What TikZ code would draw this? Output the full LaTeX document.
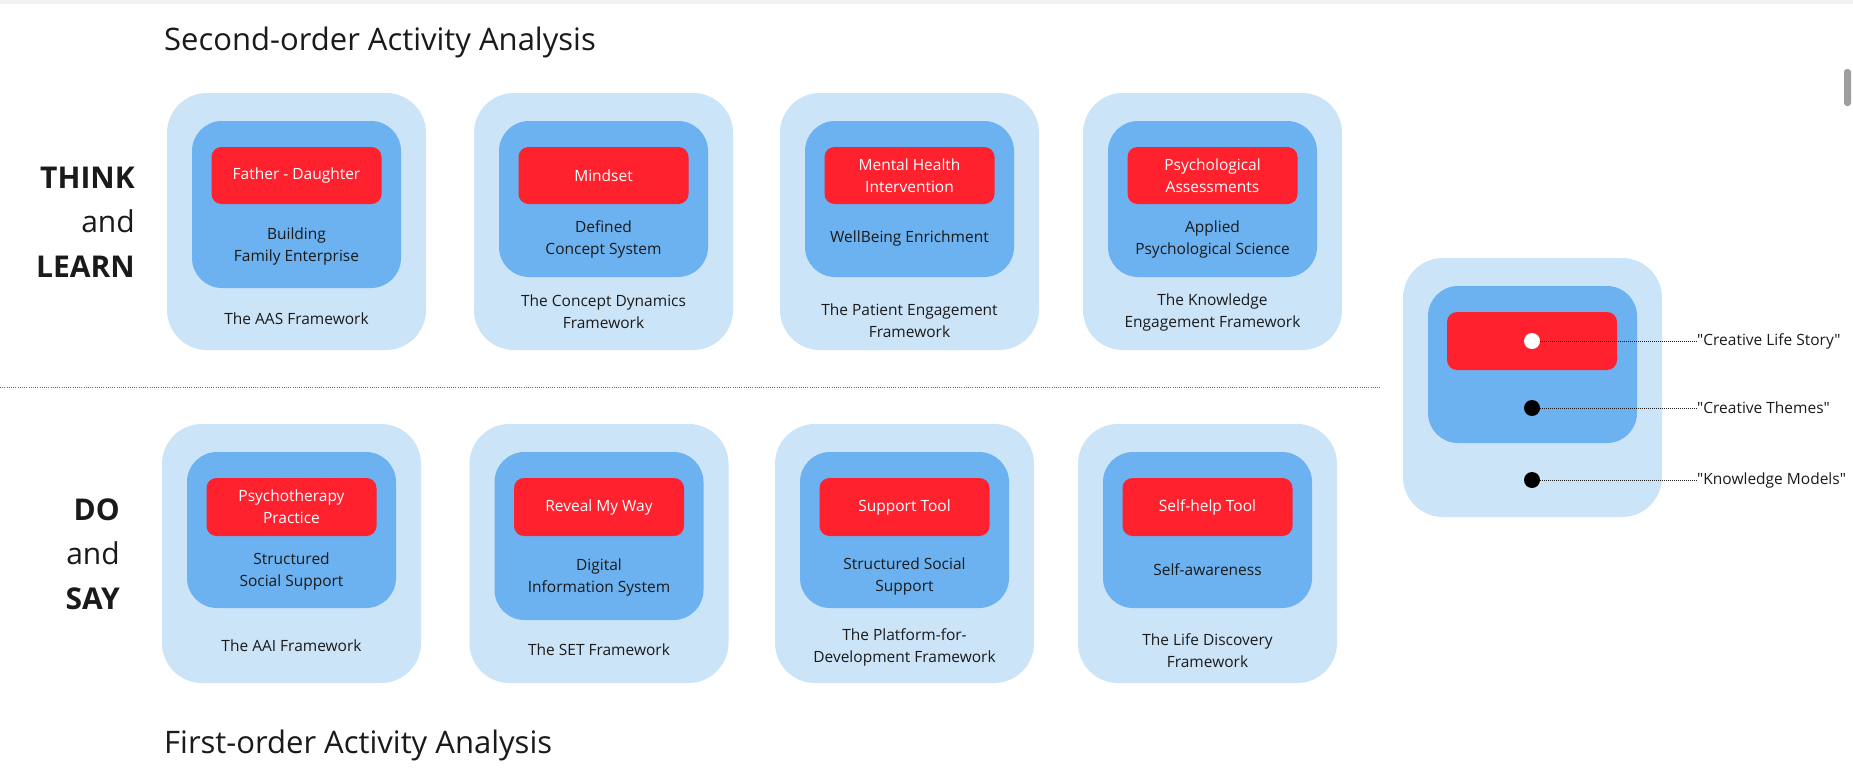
\documentclass[tikz,border=0pt]{standalone}
\usepackage{fontspec}
\setmainfont{Open Sans}
\newfontfamily\lblfont{Open Sans}[Ligatures=ResetAll]
\definecolor{outerblue}{RGB}{204,228,248}
\definecolor{innerblue}{RGB}{108,178,240}
\definecolor{boxred}{RGB}{255,33,46}
\definecolor{textdark}{RGB}{26,26,26}
\definecolor{sepgray}{RGB}{110,110,110}
\tikzset{
  outerbox/.style={draw=none, fill=outerblue, rounded corners=40pt, minimum width=259pt, inner sep=0pt},
  innerbox/.style={draw=none, fill=innerblue, rounded corners=30pt, minimum width=209pt, inner sep=0pt},
  redbox/.style={draw=none, fill=boxred, rounded corners=10pt, minimum width=170pt, minimum height=57pt, inner sep=0pt,
                 text=white, align=center, font=\fontsize{15.5}{22}\selectfont},
  txt/.style={inner sep=0pt, align=center, text=textdark, font=\fontsize{15.5}{22}\selectfont},
  side/.style={inner sep=0pt, align=right, text=textdark, font=\fontsize{30}{44.5}\selectfont},
  title/.style={inner sep=0pt, text=textdark, font=\fontsize{31}{36}\selectfont},
  dot/.style={circle, inner sep=0pt, minimum size=16pt, draw=none},
  leader/.style={draw=textdark, line width=1pt, dash pattern=on 1pt off 1pt},
  lbl/.style={inner sep=0pt, text=textdark, font=\lblfont\fontsize{15.5}{22}\selectfont}
}
\begin{document}
\begin{tikzpicture}[x=1pt,y=-1pt]
\useasboundingbox (0,0) rectangle (1853,782);
\fill[white] (0,0) rectangle (1853,782);
% faint screenshot band and scrollbar
\fill[black!5] (0,0) rectangle (1853,4);
\fill[black!38, rounded corners=3pt] (1844,69) rectangle (1851,106);

% titles
\node[title, anchor=base west] (ttop) at (164,50) {Second-order Activity Analysis};
\node[title, anchor=base west] (tbot) at (164,753) {First-order Activity Analysis};

% side labels
\node[side, anchor=east] (think) at (135,222) {\textbf{THINK}\\and\\\textbf{LEARN}};
\node[side, anchor=east] (dosay) at (120,554) {\textbf{DO}\\and\\\textbf{SAY}};

% separator
\coordinate (sepL) at (0,387);
\coordinate (sepR) at (1380,387);
\draw[draw=sepgray, line width=0.9pt, dash pattern=on 1pt off 1.2pt] (sepL) -- (sepR);

% ---------- top row ----------
\node[outerbox, minimum height=257pt] (o1) at (296.5,221.5) {};
\node[innerbox, minimum height=167pt] (i1) at (296.5,204.5) {};
\node[redbox] (r1) at (296.5,175.5) {Father - Daughter};
\node[txt] (s1) at (296.5,246) {Building\\Family Enterprise};
\node[txt] (f1) at (296.5,319) {The AAS Framework};

\node[outerbox, minimum height=257pt] (o2) at (603.5,221.5) {};
\node[innerbox, minimum height=156pt] (i2) at (603.5,199) {};
\node[redbox] (r2) at (603.5,175.5) {Mindset};
\node[txt] (s2) at (603.5,239.3) {Defined\\Concept System};
\node[txt] (f2) at (603.5,312) {The Concept Dynamics\\Framework};

\node[outerbox, minimum height=257pt] (o3) at (909.5,221.5) {};
\node[innerbox, minimum height=156pt] (i3) at (909.5,199) {};
\node[redbox] (r3) at (909.5,175.5) {Mental Health\\Intervention};
\node[txt] (s3) at (909.5,238) {WellBeing Enrichment};
\node[txt] (f3) at (909.5,321) {The Patient Engagement\\Framework};

\node[outerbox, minimum height=257pt] (o4) at (1212.5,221.5) {};
\node[innerbox, minimum height=156pt] (i4) at (1212.5,199) {};
\node[redbox] (r4) at (1212.5,175.5) {Psychological\\Assessments};
\node[txt] (s4) at (1212.5,239.3) {Applied\\Psychological Science};
\node[txt] (f4) at (1212.5,312.5) {The Knowledge\\Engagement Framework};

% ---------- bottom row ----------
\node[outerbox, minimum height=259pt] (o5) at (291.5,553.5) {};
\node[innerbox, minimum height=156pt] (i5) at (291.5,530) {};
\node[redbox, minimum height=58pt] (r5) at (291.5,507) {Psychotherapy\\Practice};
\node[txt] (s5) at (291.5,571) {Structured\\Social Support};
\node[txt] (f5) at (291.5,645.7) {The AAI Framework};

\node[outerbox, minimum height=259pt] (o6) at (599,553.5) {};
\node[innerbox, minimum height=168pt] (i6) at (599,536) {};
\node[redbox, minimum height=58pt] (r6) at (599,507) {Reveal My Way};
\node[txt] (s6) at (599,577) {Digital\\Information System};
\node[txt] (f6) at (599,650) {The SET Framework};

\node[outerbox, minimum height=259pt] (o7) at (904.5,553.5) {};
\node[innerbox, minimum height=156pt] (i7) at (904.5,530) {};
\node[redbox, minimum height=58pt] (r7) at (904.5,507) {Support Tool};
\node[txt] (s7) at (904.5,576) {Structured Social\\Support};
\node[txt] (f7) at (904.5,647) {The Platform-for-\\Development Framework};

\node[outerbox, minimum height=259pt] (o8) at (1207.5,553.5) {};
\node[innerbox, minimum height=156pt] (i8) at (1207.5,530) {};
\node[redbox, minimum height=58pt] (r8) at (1207.5,507) {Self-help Tool};
\node[txt] (s8) at (1207.5,570) {Self-awareness};
\node[txt] (f8) at (1207.5,651) {The Life Discovery\\Framework};

% ---------- legend box ----------
\node[outerbox, minimum height=259pt] (o9) at (1532.5,387.5) {};
\node[innerbox, minimum height=157pt] (i9) at (1532.5,364.5) {};
\node[redbox, minimum height=58pt] (r9) at (1532,341) {};
\node[dot, fill=white] (d1) at (1532,341) {};
\node[dot, fill=black] (d2) at (1532,408) {};
\node[dot, fill=black] (d3) at (1532,480) {};
\node[lbl, anchor=west] (l1) at (1697,341) {"Creative Life Story"};
\node[lbl, anchor=west] (l2) at (1697,408) {"Creative Themes"};
\node[lbl, anchor=west] (l3) at (1697,480) {"Knowledge Models"};
\draw[leader] (d1.east) -- (l1.west);
\draw[leader] (d2.east) -- (l2.west);
\draw[leader] (d3.east) -- (l3.west);
\end{tikzpicture}
\end{document}
